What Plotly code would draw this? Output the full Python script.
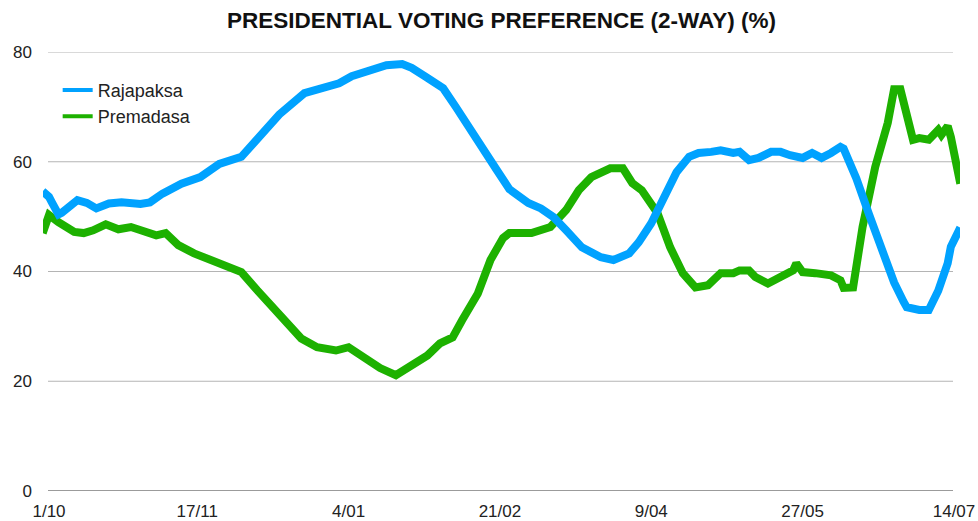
import plotly.graph_objects as go

# ---- data ----
tick_dates = ["2023-10-01", "2023-11-17", "2024-01-04", "2024-02-21",
              "2024-04-09", "2024-05-27", "2024-07-14"]
tick_labels = ["1/10", "17/11", "4/01", "21/02", "9/04", "27/05", "14/07"]
y_ticks = [0, 20, 40, 60, 80]

rajapaksa_dates = [
    "2023-09-29", "2023-10-01", "2023-10-02", "2023-10-04", "2023-10-05", "2023-10-07",
    "2023-10-10", "2023-10-13", "2023-10-16", "2023-10-20", "2023-10-24", "2023-10-30",
    "2023-11-02", "2023-11-06", "2023-11-12", "2023-11-18", "2023-11-24", "2023-12-01",
    "2023-12-07", "2023-12-13", "2023-12-21", "2023-12-29", "2024-01-01", "2024-01-05",
    "2024-01-11", "2024-01-16", "2024-01-21", "2024-01-24", "2024-01-29", "2024-02-03",
    "2024-02-07", "2024-02-11", "2024-02-16", "2024-02-20", "2024-02-24", "2024-03-01",
    "2024-03-05", "2024-03-09", "2024-03-13", "2024-03-18", "2024-03-24", "2024-03-28",
    "2024-04-02", "2024-04-05", "2024-04-09", "2024-04-13", "2024-04-17", "2024-04-21",
    "2024-04-24", "2024-04-28", "2024-05-01", "2024-05-05", "2024-05-07", "2024-05-10",
    "2024-05-13", "2024-05-17", "2024-05-20", "2024-05-23", "2024-05-27", "2024-05-30",
    "2024-06-02", "2024-06-05", "2024-06-08", "2024-06-09", "2024-06-13", "2024-06-17",
    "2024-06-21", "2024-06-25", "2024-06-28", "2024-06-29", "2024-07-03", "2024-07-06",
    "2024-07-09", "2024-07-12", "2024-07-13", "2024-07-14", "2024-07-16",
]
rajapaksa_values = [
    54.6, 53.6, 52.5, 50.4, 50.7, 51.8,
    53.0, 52.5, 51.5, 52.4, 52.6, 52.3,
    52.6, 54.2, 56.0, 57.2, 59.6, 60.9,
    64.8, 68.6, 72.5, 74.0, 74.3, 75.6,
    76.7, 77.6, 77.8, 77.1, 75.3, 73.4,
    70.0, 66.3, 62.1, 58.5, 55.0, 52.5,
    51.5, 49.9, 47.5, 44.4, 42.6, 42.1,
    43.3, 45.3, 48.8, 53.6, 58.1, 60.9,
    61.6, 61.8, 62.1, 61.6, 61.8, 60.3,
    60.7, 61.8, 61.8, 61.2, 60.7, 61.6,
    60.7, 61.6, 62.7, 62.4, 57.0, 50.5,
    44.0, 38.0, 34.5, 33.5, 33.0, 33.0,
    36.5, 41.5, 44.5, 45.8, 48.0,
]

premadasa_dates = [
    "2023-09-29", "2023-10-01", "2023-10-04", "2023-10-05", "2023-10-09", "2023-10-12",
    "2023-10-15", "2023-10-19", "2023-10-23", "2023-10-27", "2023-10-31", "2023-11-04",
    "2023-11-07", "2023-11-11", "2023-11-16", "2023-11-21", "2023-11-26", "2023-12-01",
    "2023-12-06", "2023-12-10", "2023-12-13", "2023-12-15", "2023-12-20", "2023-12-25",
    "2023-12-31", "2024-01-04", "2024-01-09", "2024-01-14", "2024-01-19", "2024-01-23",
    "2024-01-29", "2024-02-02", "2024-02-06", "2024-02-09", "2024-02-14", "2024-02-18",
    "2024-02-22", "2024-02-24", "2024-02-29", "2024-03-02", "2024-03-08", "2024-03-13",
    "2024-03-17", "2024-03-21", "2024-03-27", "2024-03-31", "2024-04-03", "2024-04-06",
    "2024-04-11", "2024-04-15", "2024-04-19", "2024-04-23", "2024-04-27", "2024-05-01",
    "2024-05-05", "2024-05-07", "2024-05-10", "2024-05-12", "2024-05-16", "2024-05-20",
    "2024-05-24", "2024-05-25", "2024-05-27", "2024-05-31", "2024-06-05", "2024-06-08",
    "2024-06-09", "2024-06-12", "2024-06-15", "2024-06-19", "2024-06-23", "2024-06-25",
    "2024-06-27", "2024-07-01", "2024-07-03", "2024-07-06", "2024-07-09", "2024-07-10",
    "2024-07-12", "2024-07-13", "2024-07-14", "2024-07-16",
]
premadasa_values = [
    47.0, 50.3, 49.0, 48.6, 47.2, 47.0,
    47.5, 48.6, 47.7, 48.1, 47.5, 46.6,
    47.0, 44.8, 43.3, 42.1, 41.1, 39.9,
    36.6, 34.2, 32.0, 30.7, 27.8, 26.2,
    25.6, 26.2, 24.4, 22.4, 21.1, 22.5,
    24.7, 26.9, 28.0, 31.1, 36.0, 42.1,
    46.1, 47.0, 47.0, 47.0, 48.1, 51.2,
    54.8, 57.2, 58.8, 58.8, 56.1, 54.8,
    50.6, 44.4, 39.7, 37.1, 37.5, 39.7,
    39.7, 40.2, 40.2, 39.0, 37.8, 39.0,
    40.2, 41.5, 39.9, 39.7, 39.3, 38.4,
    37.0, 37.1, 48.1, 59.0, 67.1, 73.2,
    73.2, 64.0, 64.3, 64.0, 65.8, 64.9,
    66.5, 64.5, 62.0, 56.0,
]

BLUE = "#00A2FF"
GREEN = "#1DB100"
FONT = "Liberation Sans, Arial, Helvetica, sans-serif"

fig = go.Figure()
fig.add_trace(go.Scatter(
    x=premadasa_dates, y=premadasa_values, name="Premadasa", mode="lines",
    line=dict(color=GREEN, width=8), showlegend=False,
))
fig.add_trace(go.Scatter(
    x=rajapaksa_dates, y=rajapaksa_values, name="Rajapaksa", mode="lines",
    line=dict(color=BLUE, width=8), showlegend=False,
))
# legend entries (thinner key lines, as in the reference)
fig.add_trace(go.Scatter(x=[None], y=[None], name="Rajapaksa", mode="lines",
                         line=dict(color=BLUE, width=4), legendrank=1))
fig.add_trace(go.Scatter(x=[None], y=[None], name="Premadasa", mode="lines",
                         line=dict(color=GREEN, width=4), legendrank=2))

# gridlines drawn as shapes so they stop short of the line clip region
L, R = 43, 960          # plot area pixel edges
G0, G1 = 48, 953        # gridline pixel extent
W = R - L
for v in y_ticks:
    fig.add_shape(type="line", xref="paper", yref="y",
                  x0=(G0 - L) / W, x1=(G1 - L) / W, y0=v, y1=v,
                  line=dict(color="#7a7a7a" if v == 0 else "#b4b4b4",
                            width=1.6 if v == 0 else 1.2),
                  layer="below")

fig.update_layout(
    width=978, height=521,
    margin=dict(l=L, r=978 - R, t=52, b=30, autoexpand=False),
    paper_bgcolor="white", plot_bgcolor="white",
    font=dict(family=FONT, size=17, color="#222222"),
    title=dict(text="PRESIDENTIAL VOTING PREFERENCE (2-WAY) (%)",
               x=0.5, xref="paper", xanchor="center",
               y=1 - 20 / 521, yanchor="middle",
               font=dict(family=FONT, size=22.5, color="#111111", weight="bold")),
    showlegend=True,
    legend=dict(x=0.016, y=0.955, xanchor="left", yanchor="top",
                bgcolor="rgba(0,0,0,0)", font=dict(family=FONT, size=18, color="#222222"),
                tracegroupgap=0),
    xaxis=dict(type="date", automargin=False,
               range=["2023-09-29 02:20", "2024-07-15 21:40"],
               tickvals=tick_dates, ticktext=tick_labels,
               showgrid=False, zeroline=False, showline=False, ticks="",
               ticklabelstandoff=8,
               tickfont=dict(family=FONT, size=17, color="#222222")),
    yaxis=dict(range=[0, 80], tickvals=y_ticks, automargin=False,
               showgrid=False, zeroline=False, showline=False, ticks="",
               ticklabelstandoff=10,
               tickfont=dict(family=FONT, size=17, color="#222222")),
)

fig.write_html("out.html", config={"displayModeBar": False},
               post_script="document.body.style.margin='0px';document.body.style.overflow='hidden';")
